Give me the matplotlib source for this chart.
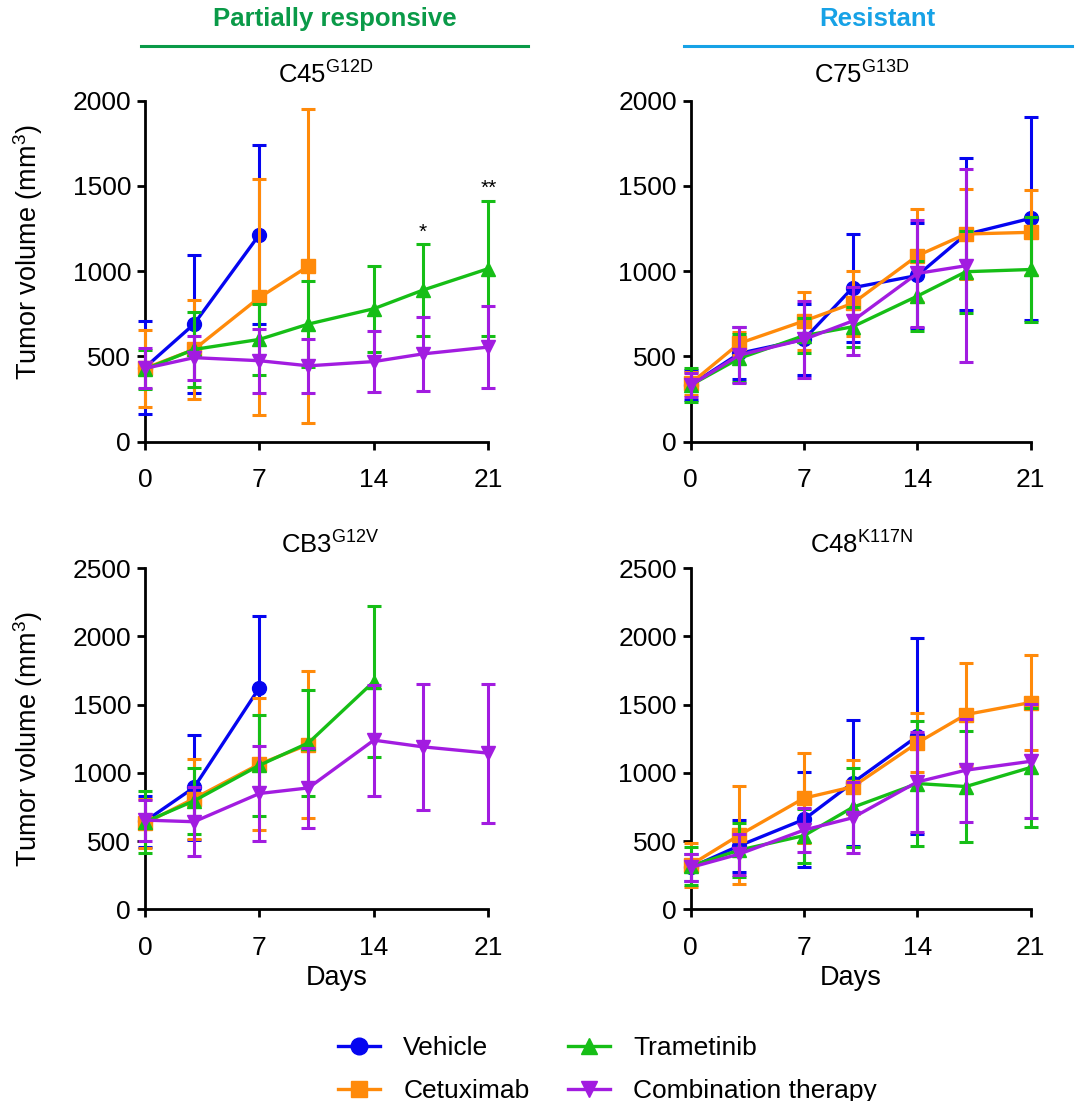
import numpy as np
import matplotlib
matplotlib.use("Agg")
import matplotlib.pyplot as plt
from matplotlib.lines import Line2D

plt.rcParams['font.family'] = ['Liberation Sans', 'DejaVu Sans']
plt.rcParams['mathtext.fontset'] = 'custom'
plt.rcParams['mathtext.rm'] = 'Liberation Sans'
plt.rcParams['mathtext.it'] = 'Liberation Sans'

nan = np.nan
days = [0, 3, 7, 10, 14, 17, 21]
groups = ["Vehicle", "Cetuximab", "Trametinib", "Combination therapy"]
colors = ["#0505F0", "#FF8A0A", "#16BE16", "#A21CE0"]
markers = ["o", "s", "^", "v"]

titles = [r"C45$^{\mathrm{G12D}}$", r"C75$^{\mathrm{G13D}}$",
          r"CB3$^{\mathrm{G12V}}$", r"C48$^{\mathrm{K117N}}$"]

# mean tumour volume per group (rows follow `groups`)
c45_mean = [[435, 690, 1215, nan, nan, nan, nan],
            [430, 541, 846, 1030, nan, nan, nan],
            [425, 541, 600, 690, 780, 889, 1015],
            [430, 493, 475, 445, 470, 515, 555]]
c45_err = [[275, 405, 525, nan, nan, nan, nan],
           [225, 288, 692, 919, nan, nan, nan],
           [115, 220, 207, 250, 252, 268, 395],
           [117, 129, 188, 157, 178, 215, 240]]

c75_mean = [[332, 518, 600, 903, 975, 1216, 1310],
            [342, 577, 708, 811, 1091, 1218, 1228],
            [332, 489, 622, 674, 854, 997, 1010],
            [332, 508, 600, 708, 987, 1032, nan]]
c75_err = [[87, 152, 206, 316, 310, 446, 596],
           [66, 68, 172, 190, 272, 262, 250],
           [98, 140, 104, 117, 203, 240, 310],
           [70, 165, 227, 200, 313, 565, nan]]

cb3_mean = [[645, 893, 1625, nan, nan, nan, nan],
            [630, 812, 1065, 1208, nan, nan, nan],
            [640, 795, 1056, 1220, 1670, nan, nan],
            [654, 642, 849, 890, 1240, 1191, 1145]]
cb3_err = [[186, 382, 524, nan, nan, nan, nan],
           [180, 293, 482, 537, nan, nan, nan],
           [230, 244, 370, 388, 555, nan, nan],
           [150, 252, 345, 292, 406, 463, 510]]

c48_mean = [[307, 466, 659, 927, 1269, nan, nan],
            [325, 544, 815, 898, 1220, 1428, 1516],
            [317, 434, 540, 747, 922, 900, 1040],
            [307, 405, 581, 671, 934, 1020, 1085]]
c48_err = [[102, 192, 350, 460, 720, nan, nan],
           [158, 360, 332, 200, 216, 376, 350],
           [140, 196, 198, 290, 460, 407, 434],
           [100, 150, 160, 261, 366, 378, 418]]

means = [c45_mean, c75_mean, cb3_mean, c48_mean]
errs = [c45_err, c75_err, cb3_err, c48_err]
ymaxes = [2000, 2000, 2500, 2500]
xticks = [0, 7, 14, 21]

W, H = 1076, 1101
fig = plt.figure(figsize=(W / 100, H / 100), dpi=100)

def px_rect(x0, y_bottom, w, h):
    return [x0 / W, 1 - y_bottom / H, w / W, h / H]

rects = [px_rect(145, 441.7, 343.3, 341), px_rect(690.7, 441.7, 340, 341),
         px_rect(145, 909.3, 343.3, 341), px_rect(690.7, 909.3, 340, 341)]
title_x = [326, 862, 330, 862]
title_y = [75, 75, 545, 545]

axes = []
for i in range(4):
    ax = fig.add_axes(rects[i])
    axes.append(ax)
    for g in [3, 2, 1, 0]:
        m = np.array(means[i][g], dtype=float)
        e = np.array(errs[i][g], dtype=float)
        ok = ~np.isnan(m)
        d = np.array(days)[ok]
        cont = ax.errorbar(d, m[ok], yerr=e[ok], color=colors[g], marker=markers[g],
                           markersize=10, linewidth=2.4, elinewidth=2.2, capsize=5,
                           capthick=2.2, zorder=3 + g, clip_on=False)
        cont[0].set_clip_on(False)
        for a in cont[1]:
            a.set_clip_on(False)
        for col in cont[2]:
            col.set_clip_on(False)
    ax.set_xlim(0, 21)
    ax.set_ylim(0, ymaxes[i])
    ax.set_xticks(xticks)
    ax.set_yticks(np.arange(0, ymaxes[i] + 1, 500))
    for s in ["top", "right"]:
        ax.spines[s].set_visible(False)
    for s in ["left", "bottom"]:
        ax.spines[s].set_linewidth(2.0)
    ax.tick_params(axis="both", width=2.0, length=6, labelsize=19, direction="out")
    ax.tick_params(axis="x", pad=13)
    ax.tick_params(axis="y", pad=4)
    fig.text(title_x[i] / W, 1 - title_y[i] / H, titles[i], ha="center", va="center",
             fontsize=18.5)
    if i in (0, 2):
        ax.set_ylabel("Tumor volume (mm$^{3}$)", fontsize=19.5)
        ax.yaxis.set_label_coords(-0.29, 0.555 if i == 0 else 0.5)
    if i in (2, 3):
        ax.set_xlabel("Days", fontsize=19.5)
        ax.xaxis.set_label_coords(0.557 if i == 2 else 0.47, -0.162)

# significance stars
axes[0].text(17, 1175, "*", ha="center", va="bottom", fontsize=15)
axes[0].text(21, 1430, "**", ha="center", va="bottom", fontsize=15)

# headers
fig.text(335 / W, 1 - 19 / H, "Partially responsive", ha="center", va="center",
         fontsize=18.5, fontweight="bold", color="#0A9A48")
fig.text(877 / W, 1 - 19 / H, "Resistant", ha="center", va="center",
         fontsize=18.5, fontweight="bold", color="#17A2E6")
fig.add_artist(Line2D([141 / W, 528 / W], [1 - 46 / H, 1 - 46 / H],
                      transform=fig.transFigure, color="#0A9A48", linewidth=2.2))
fig.add_artist(Line2D([684 / W, 1072 / W], [1 - 46 / H, 1 - 46 / H],
                      transform=fig.transFigure, color="#17A2E6", linewidth=2.2))

# legend
leg_handles = [Line2D([], [], color=colors[g], marker=markers[g], markersize=12,
                      linewidth=2.4) for g in range(4)]
fig.legend(leg_handles, groups, ncol=2, loc="upper left",
           bbox_to_anchor=(338 / W, 1 - 1036 / H), frameon=False, fontsize=19,
           handlelength=1.6, handletextpad=0.87, columnspacing=1.45,
           labelspacing=0.72, borderpad=0, borderaxespad=0)

fig.savefig("out.png", dpi=100)
